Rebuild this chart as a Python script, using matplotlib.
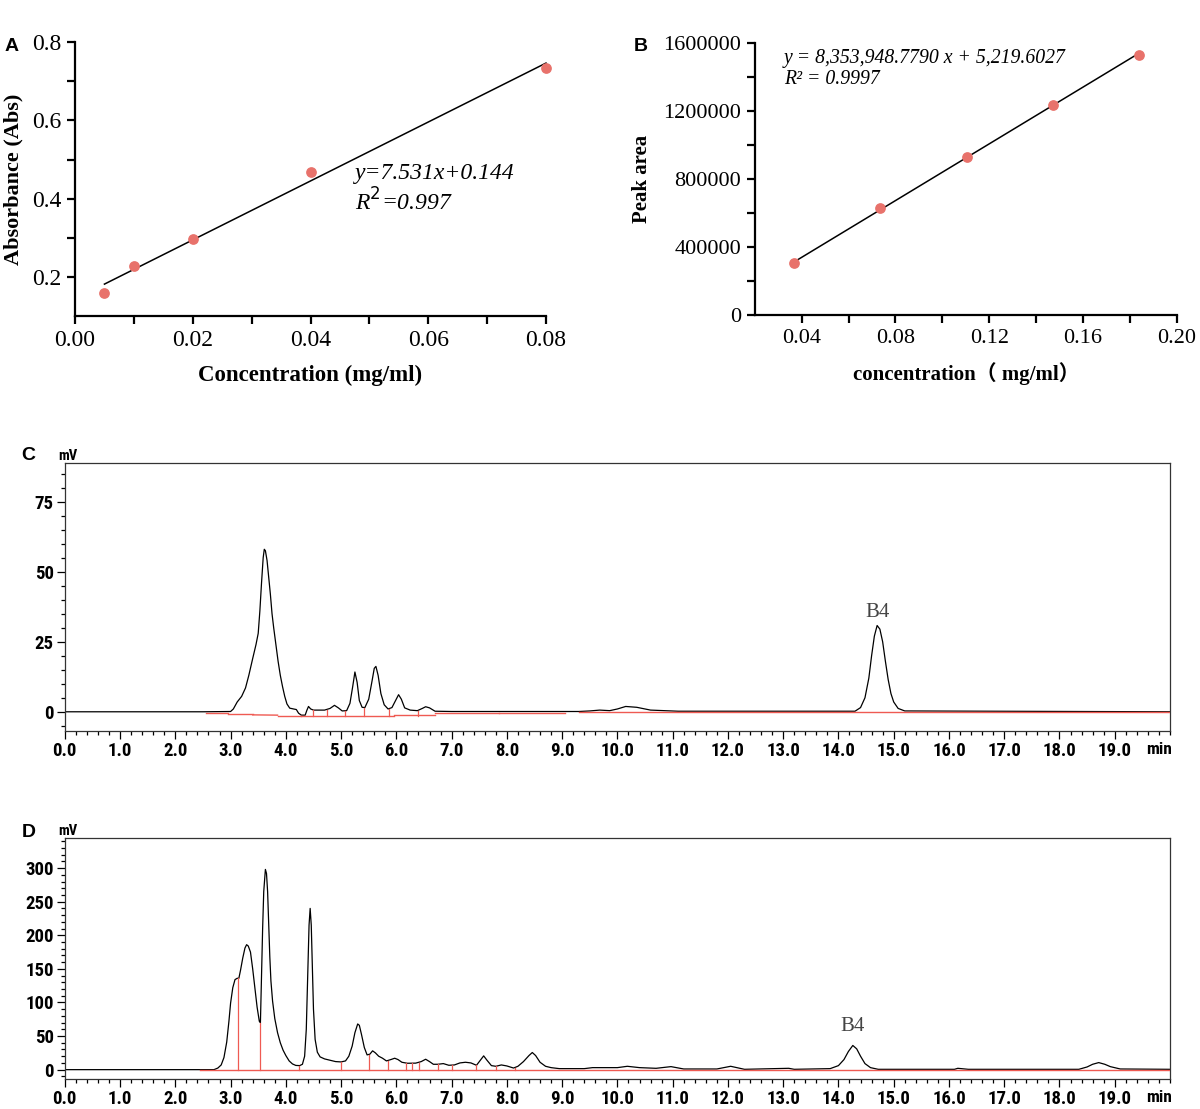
import numpy as np
import matplotlib.pyplot as plt
from matplotlib.ticker import MultipleLocator, FixedLocator

# ---- standard curve A ----
a_conc = [0.005, 0.01, 0.02, 0.04, 0.08]
a_abs = [0.159, 0.229, 0.296, 0.468, 0.734]
a_slope, a_icpt = 7.531, 0.144

# ---- standard curve B ----
b_conc = [0.0368, 0.0735, 0.1103, 0.1470, 0.1838]
b_area = [305000, 628000, 930000, 1239000, 1529000]
b_slope, b_icpt = 8353948.7790, 5219.6027

# ---- chromatogram C (time min, signal mV) ----
c_time = [0.0, 2.5, 3.0, 3.05, 3.12, 3.2, 3.27, 3.33, 3.4, 3.46, 3.5, 3.53, 3.56, 3.59,
          3.61, 3.63, 3.66, 3.69, 3.72, 3.75, 3.78, 3.82, 3.86, 3.9, 3.94, 3.98, 4.02,
          4.07, 4.14, 4.19, 4.23, 4.28, 4.35, 4.38, 4.41, 4.45, 4.5, 4.7, 4.8, 4.88,
          4.95, 5.02, 5.1, 5.16, 5.21, 5.25, 5.29, 5.33, 5.38, 5.43, 5.5, 5.56, 5.6,
          5.63, 5.67, 5.72, 5.78, 5.85, 5.92, 5.98, 6.04, 6.09, 6.15, 6.25, 6.38, 6.47,
          6.53, 6.6, 6.7, 7.0, 9.3, 9.5, 9.68, 9.86, 10.0, 10.15, 10.35, 10.6, 11.1,
          14.3, 14.4, 14.48, 14.55, 14.6, 14.65, 14.7, 14.75, 14.8, 14.85, 14.9, 14.95,
          15.0, 15.08, 15.2, 20.0]
c_mv = [0.0, 0.0, 0.1, 1.0, 3.5, 5.5, 8.5, 13, 19, 24, 28, 36, 46, 55,
        58, 57.5, 54, 48, 42, 35, 30, 24, 18, 13, 9, 5.5, 2.8,
        1.3, 1.0, 0.8, -0.5, -1.2, -1.2, 0.5, 1.9, 1.0, 0.6, 0.6, 1.2, 2.3,
        1.4, 0.3, 0.4, 3.0, 9.0, 14.2, 10.5, 4.0, 1.6, 1.5, 4.5, 11, 15.5,
        16.2, 13, 6.5, 2.5, 1.0, 1.5, 3.8, 6.1, 4.5, 1.4, 0.6, 0.4, 1.2,
        1.8, 1.4, 0.2, 0.1, 0.1, 0.3, 0.6, 0.4, 1.0, 1.9, 1.6, 0.6, 0.2,
        0.2, 1.5, 5, 12, 20, 27, 30.8, 29.5, 25, 18, 11.5, 6.5,
        3.5, 1.2, 0.3, 0.0]
# integration baseline segments (t0, t1, mV0, mV1) and drop lines (t, mV top)
c_base = [(2.55, 2.95, -0.3, -0.3), (2.95, 3.4, -0.8, -0.8), (3.4, 3.85, -1.1, -1.2),
          (3.85, 4.27, -1.4, -1.4), (4.27, 5.95, -1.5, -1.5), (5.95, 6.7, -1.2, -1.2),
          (6.7, 7.85, -0.6, -0.6), (7.85, 9.05, -0.3, -0.3), (9.3, 20.0, 0.0, 0.0)]
c_drops = [(4.5, 0.6), (4.75, 0.6), (5.07, 0.3), (5.42, 1.5), (5.87, 1.0), (6.39, 0.4)]

# ---- chromatogram D ----
d_time = [0.0, 2.7, 2.77, 2.83, 2.88, 2.93, 2.97, 3.0, 3.04, 3.08, 3.12, 3.15, 3.18, 3.22,
          3.26, 3.29, 3.32, 3.36, 3.4, 3.44, 3.48, 3.52, 3.54, 3.56, 3.58, 3.6, 3.63, 3.65,
          3.67, 3.69, 3.71, 3.73, 3.76, 3.8, 3.85, 3.9, 3.95, 4.0, 4.06, 4.12, 4.18, 4.25,
          4.3, 4.34, 4.37, 4.4, 4.42, 4.44, 4.46, 4.48, 4.5, 4.53, 4.57, 4.62, 4.7, 4.8,
          4.9, 5.0, 5.08, 5.14, 5.2, 5.25, 5.3, 5.33, 5.37, 5.42, 5.47, 5.52, 5.57, 5.62,
          5.68, 5.75, 5.82, 5.9, 5.97, 6.03, 6.1, 6.2, 6.35, 6.45, 6.53, 6.6, 6.67, 6.75,
          6.85, 6.95, 7.05, 7.15, 7.25, 7.35, 7.45, 7.52, 7.58, 7.64, 7.72, 7.8, 7.9, 8.0,
          8.12, 8.2, 8.3, 8.4, 8.46, 8.52, 8.6, 8.7, 8.8, 8.95, 9.4, 9.55, 10.0, 10.18,
          10.4, 10.7, 10.97, 11.2, 11.8, 12.05, 12.3, 13.1, 13.2, 13.85, 14.0, 14.1, 14.18,
          14.26, 14.33, 14.4, 14.48, 14.58, 14.72, 16.1, 16.16, 16.35, 18.35, 18.5, 18.6,
          18.71, 18.82, 18.92, 19.1, 20.0]
d_mv = [0.0, 0.0, 2.4, 7, 18, 41, 72, 99, 122, 134, 136, 136, 148, 166,
        181, 186, 184, 175, 150, 122, 93, 72, 70, 140, 210, 265, 298, 292,
        265, 215, 168, 132, 102, 76, 55, 40, 29, 21, 13, 8.5, 6.3, 6.0,
        8, 20, 60, 150, 215, 240, 215, 150, 90, 45, 26, 19, 16, 14,
        12, 11.5, 13, 20, 35, 55, 68, 66, 52, 33, 22, 23, 28, 25,
        20, 17, 13, 15, 17, 15, 11, 9.5, 9.7, 12, 15.5, 12, 8, 8,
        9, 6.5, 7, 10, 11, 10, 6.5, 14, 20.5, 14, 6, 5, 7, 5.5,
        2.4, 5, 12, 21, 25.5, 21, 11, 5, 3, 1.5, 1.5, 3, 3, 5,
        3, 2, 4.5, 1, 1, 5, 0.5, 2, 0.5, 1.5, 6, 15, 27,
        36, 31, 20, 9, 3, 0.5, 0.5, 2, 0.5, 0.5, 4, 8,
        10.5, 8, 4.5, 1, 0.5]
d_base = [(2.45, 20.0, 0.0, 0.0)]
d_drops = [(3.14, 136), (3.53, 70), (4.24, 6.0), (4.99, 11.5), (5.50, 22), (5.85, 13),
           (6.18, 9.7), (6.28, 9.6), (6.41, 10.5), (6.76, 8), (7.0, 6.6), (7.44, 7),
           (7.81, 5), (8.14, 2.6)]

SERIF = 'Liberation Serif'
NARROW = ['Liberation Sans Narrow', 'Roboto Condensed', 'Archivo Narrow', 'PT Sans Narrow',
          'DejaVu Sans']
RED = '#ef5a52'

fig = plt.figure(figsize=(12, 11.09), dpi=100)

# ---------------- A ----------------
ax = fig.add_axes([0.0625, 0.715, 0.3925, 0.247])
ax.scatter(a_conc, a_abs, s=45, color='#e8726b', zorder=3, clip_on=False)
xs = np.array([a_conc[0], a_conc[-1]])
ax.plot(xs, a_slope * xs + a_icpt, color='black', lw=1.1, clip_on=False)
ax.set_xlim(0, 0.08)
ax.set_ylim(0.1, 0.8)
ax.set_xticks([0, 0.02, 0.04, 0.06, 0.08])
ax.set_xticklabels(['0.00', '0.02', '0.04', '0.06', '0.08'])
ax.xaxis.set_minor_locator(FixedLocator([0.01, 0.03, 0.05, 0.07]))
ax.set_yticks([0.2, 0.4, 0.6, 0.8])
ax.yaxis.set_minor_locator(FixedLocator([0.3, 0.5, 0.7]))
ax.text(0.0475, 0.464, 'y=7.531x+0.144', fontsize=17, family=SERIF, style='italic', va='center')
ax.text(0.0475, 0.391, r'R$^{2}$=0.997', fontsize=17, family=SERIF, style='italic', va='center')
ax.set_xlabel('Concentration (mg/ml)', fontsize=16.5, family=SERIF, fontweight='bold', labelpad=10)
ax.set_ylabel('Absorbance (Abs)', fontsize=16, family=SERIF, fontweight='bold', labelpad=6)
fig.text(0.004, 0.958, 'A', fontsize=14, fontweight='bold', family='Liberation Sans', va='center')

# ---------------- B ----------------
bx = fig.add_axes([0.629, 0.716, 0.3517, 0.245])
bx.scatter(b_conc, b_area, s=45, color='#e8726b', zorder=3, clip_on=False)
xs = np.array([b_conc[0], b_conc[-1]])
bx.plot(xs, b_slope * xs + b_icpt, color='black', lw=1.1)
bx.set_xlim(0.02, 0.20)
bx.set_ylim(0, 1600000)
bx.set_xticks([0.04, 0.08, 0.12, 0.16, 0.20])
bx.set_xticklabels(['0.04', '0.08', '0.12', '0.16', '0.20'])
bx.xaxis.set_minor_locator(FixedLocator([0.06, 0.10, 0.14, 0.18]))
bx.set_yticks([0, 400000, 800000, 1200000, 1600000])
bx.set_yticklabels(['0', '400000', '800000', '1200000', '1600000'])
bx.yaxis.set_minor_locator(FixedLocator([200000, 600000, 1000000, 1400000]))
bx.text(0.0325, 1512000, 'y = 8,353,948.7790 x + 5,219.6027', fontsize=14.2, family=SERIF,
        style='italic', va='center')
bx.text(0.0325, 1388000, 'R\u00b2 = 0.9997', fontsize=14.2, family=SERIF, style='italic', va='center')
bx.set_xlabel('concentration\uff08 mg/ml\uff09', fontsize=15, family=[SERIF, 'Noto Sans CJK SC'],
              fontweight='bold', labelpad=10)
bx.set_ylabel('Peak area', fontsize=15, family=SERIF, fontweight='bold', labelpad=8)
fig.text(0.528, 0.958, 'B', fontsize=14, fontweight='bold', family='Liberation Sans', va='center')

for a, lsize in ((ax, 17), (bx, 16)):
    for s in ('top', 'right'):
        a.spines[s].set_visible(False)
    for s in ('left', 'bottom'):
        a.spines[s].set_linewidth(1.6)
    a.tick_params(which='both', direction='out', length=6, width=1.6, labelsize=lsize, pad=4)
    for lab in a.get_xticklabels() + a.get_yticklabels():
        lab.set_family(SERIF)


# ---------------- chromatograms ----------------
def chromatogram(pos, t, mv, base, drops, ylim, ymajor, yminor, peak_t, label_y, letter, letter_y):
    c = fig.add_axes(pos)
    c.plot(t, mv, color='black', lw=0.9, zorder=2)
    for t0, t1, y0, y1 in base:
        c.plot([t0, t1], [y0, y1], color=RED, lw=1.0, zorder=3)
    for td, top in drops:
        c.plot([td, td], [0 if base is d_base else -1.4, top], color=RED, lw=0.9, zorder=3)
    c.set_xlim(0, 20)
    c.set_ylim(*ylim)
    c.set_xticks(np.arange(0, 20, 1.0))
    c.set_xticklabels(['%.1f' % v for v in np.arange(0, 20, 1.0)])
    c.xaxis.set_minor_locator(MultipleLocator(0.2))
    c.yaxis.set_major_locator(MultipleLocator(ymajor))
    c.yaxis.set_minor_locator(MultipleLocator(yminor))
    c.set_yticks([v for v in c.get_yticks() if 0 <= v <= ylim[1] - ymajor * 0.3])
    c.tick_params(which='major', length=6, width=0.9, labelsize=13.5, pad=2)
    c.tick_params(which='minor', length=3, width=0.9)
    for lab in c.get_xticklabels() + c.get_yticklabels():
        lab.set_family(NARROW)
        lab.set_fontweight('bold')
    for s in c.spines.values():
        s.set_linewidth(0.9)
        s.set_color('#333333')
    c.text(peak_t, label_y, 'B4', fontsize=15, family=SERIF, color='#444444', ha='center', va='bottom')
    c.text(0.003, 1.0, 'mV', transform=c.transAxes, fontsize=10.5, family=NARROW, fontweight='bold',
           ha='center', va='bottom')
    c.annotate('min', xy=(19.8, 0), xycoords=('data', 'axes fraction'), xytext=(0, -8),
               textcoords='offset points', fontsize=12.5, family=NARROW, fontweight='bold',
               ha='center', va='top')
    fig.text(0.018, letter_y, letter, fontsize=14, fontweight='bold', family='Liberation Sans', va='center')
    return c


chromatogram([0.054, 0.341, 0.921, 0.2415], c_time, c_mv, c_base, c_drops,
             (-6.8, 88.8), 25, 5, 14.7, 32, 'C', 0.589)
chromatogram([0.054, 0.027, 0.921, 0.2175], d_time, d_mv, d_base, d_drops,
             (-14, 345), 50, 10, 14.26, 50, 'D', 0.249)

fig.savefig('out.png', dpi=100)
